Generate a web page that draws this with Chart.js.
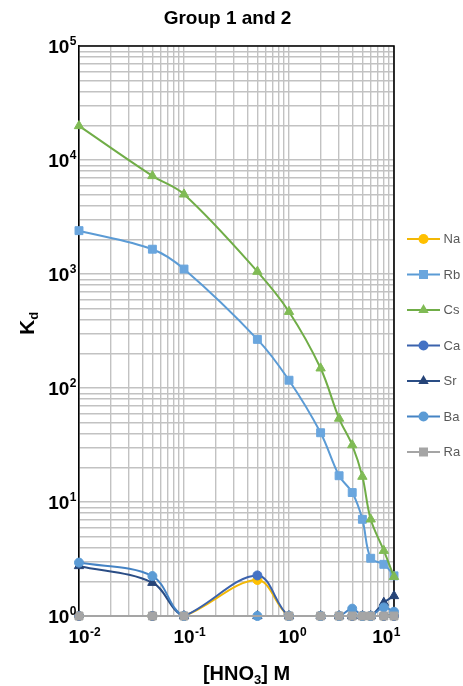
<!DOCTYPE html>
<html>
<head>
<meta charset="utf-8">
<script src="https://cdn.jsdelivr.net/npm/chart.js@4.4.1/dist/chart.umd.min.js"></script>
<style>
  html, body { margin: 0; padding: 0; background: #ffffff; }
  #wrap { width: 463px; height: 686px; position: relative; }
</style>
</head>
<body>
<div id="wrap"><canvas id="kdChart"></canvas></div>
<script>
// Nitric acid concentrations (M)
const hno3 = [0.01, 0.05, 0.1, 0.5, 1, 2, 3, 4, 5, 6, 8, 10];

// Distribution coefficients (Kd) per element
const kdNa = [1, 1, 1, 2.07, 1, 1, 1, 1, 1, 1, 1, 1];
const kdRb = [2400, 1650, 1105, 267, 117, 40.5, 17.0, 12.1, 7.05, 3.21, 2.84, 2.25];
const kdCs = [19900, 7250, 5000, 1050, 467, 149, 54, 31.6, 16.7, 7.05, 3.74, 2.21];
const kdCa = [1, 1, 1, 2.27, 1, 1, 1, 1, 1, 1, 1, 1];
const kdSr = [2.75, 1.96, 1, 1, 1, 1, 1, 1, 1, 1, 1.31, 1.5];
const kdBa = [2.94, 2.24, 1, 1, 1, 1, 1, 1.16, 1, 1, 1.19, 1.09];
const kdRa = [1, 1, 1, null, 1, 1, 1, 1, 1, 1, 1, 1];

const seriesNames = ['Na', 'Rb', 'Cs', 'Ca', 'Sr', 'Ba', 'Ra'];
const seriesValues = [kdNa, kdRb, kdCs, kdCa, kdSr, kdBa, kdRa];

// Axis tick labels: powers of ten
const xMajorTicks = [0.01, 0.1, 1, 10];
const xTickExponents = ['-2', '-1', '0', '1'];
const yMajorTicks = [1, 10, 100, 1000, 10000, 100000];
const yTickExponents = ['0', '1', '2', '3', '4', '5'];

// Styling
const lineColors   = ['#F2B705', '#5B9BD5', '#70AD47', '#3B62AC', '#2A4D85', '#4583C4', '#A5A5A5'];
const markerColors = ['#FFC000', '#6AA6DE', '#80BB55', '#4472C4', '#264478', '#5B9BD5', '#A5A5A5'];
const markerShapes = ['circle', 'rect', 'triangle', 'circle', 'triangle', 'circle', 'rect'];
const markerRadius = { circle: 4.5, rect: 5.6, triangle: 5.4 };

const FONT = '"Liberation Sans", Arial, Helvetica, sans-serif';

// Gridline positions: 1..9 of every decade
function decadeTicks(min, max) {
  const out = [];
  for (let e = Math.round(Math.log10(min)); e < Math.round(Math.log10(max)); e++) {
    for (let k = 1; k <= 9; k++) out.push({ value: k * Math.pow(10, e) });
  }
  out.push({ value: max });
  return out;
}

const datasets = seriesNames.map((name, i) => ({
  label: name,
  data: hno3.map((x, j) => ({ x: x, y: seriesValues[i][j] })),
  borderColor: lineColors[i],
  backgroundColor: markerColors[i],
  pointBackgroundColor: markerColors[i],
  pointBorderColor: markerColors[i],
  pointBorderWidth: 1,
  pointStyle: markerShapes[i],
  pointRadius: markerRadius[markerShapes[i]],
  pointHoverRadius: markerRadius[markerShapes[i]],
  borderWidth: 2,
  tension: 0.35,
  spanGaps: true,
  clip: { left: 8, right: 8, top: 8, bottom: 8 },
  order: seriesNames.length - i
}));

// "10" with a raised exponent
function drawPower(ctx, exp, anchorX, baseY, align) {
  const mainFont = 'bold 19px ' + FONT;
  const expFont = 'bold 12px ' + FONT;
  ctx.font = mainFont;
  const wMain = ctx.measureText('10').width;
  ctx.font = expFont;
  const wExp = ctx.measureText(exp).width;
  let x0;
  if (align === 'right') x0 = anchorX - wMain - wExp - 0.5;
  else x0 = anchorX - wMain / 2;
  ctx.textAlign = 'left';
  ctx.textBaseline = 'alphabetic';
  ctx.font = mainFont;
  ctx.fillText('10', x0, baseY);
  ctx.font = expFont;
  ctx.fillText(exp, x0 + wMain + 0.5, baseY - 7.5);
  return x0 + wMain + 0.5 + wExp;
}

function legendMarker(ctx, shape, x, y, color) {
  ctx.fillStyle = color;
  ctx.beginPath();
  if (shape === 'circle') {
    ctx.arc(x, y, 5, 0, Math.PI * 2);
  } else if (shape === 'rect') {
    ctx.rect(x - 4.5, y - 4.5, 9, 9);
  } else {
    const r = 6;
    ctx.moveTo(x, y - r);
    ctx.lineTo(x + r * 0.866, y + r * 0.5);
    ctx.lineTo(x - r * 0.866, y + r * 0.5);
    ctx.closePath();
  }
  ctx.fill();
}

const decorations = {
  id: 'decorations',
  beforeDatasetsDraw(chart) {
    const { ctx, chartArea: a } = chart;
    ctx.save();
    ctx.strokeStyle = '#000000';
    ctx.lineWidth = 1.6;
    ctx.beginPath();
    ctx.moveTo(a.left, a.top);
    ctx.lineTo(a.right, a.top);
    ctx.lineTo(a.right, a.bottom);
    ctx.stroke();
    ctx.restore();
  },
  afterDraw(chart) {
    const { ctx, chartArea: a, scales } = chart;
    ctx.save();
    ctx.fillStyle = '#000000';

    // Title
    ctx.font = 'bold 19px ' + FONT;
    ctx.textAlign = 'center';
    ctx.textBaseline = 'alphabetic';
    ctx.fillText('Group 1 and 2', 227.5, 24);

    // Y tick labels
    yMajorTicks.forEach((v, i) => {
      const py = scales.y.getPixelForValue(v);
      drawPower(ctx, yTickExponents[i], a.left - 2.5, py + 6.8, 'right');
    });

    // X tick labels (kept from spilling far past the frame)
    xMajorTicks.forEach((v, i) => {
      const px = scales.x.getPixelForValue(v);
      ctx.font = 'bold 19px ' + FONT;
      const wMain = ctx.measureText('10').width;
      ctx.font = 'bold 12px ' + FONT;
      const wExp = ctx.measureText(xTickExponents[i]).width;
      let cx = px;
      const right = cx - wMain / 2 + wMain + wExp;
      if (right > a.right + 6) cx -= right - (a.right + 6);
      drawPower(ctx, xTickExponents[i], cx, a.bottom + 27, 'center');
    });

    // X axis title: [HNO3] M
    const bigX = 'bold 20px ' + FONT, subX = 'bold 13px ' + FONT;
    ctx.font = bigX;
    const w1 = ctx.measureText('[HNO').width, w3 = ctx.measureText('] M').width;
    ctx.font = subX;
    const w2 = ctx.measureText('3').width;
    let tx = (a.left + a.right) / 2 + 10 - (w1 + w2 + w3) / 2;
    const ty = 680;
    ctx.textAlign = 'left';
    ctx.font = bigX; ctx.fillText('[HNO', tx, ty); tx += w1;
    ctx.font = subX; ctx.fillText('3', tx, ty + 4); tx += w2;
    ctx.font = bigX; ctx.fillText('] M', tx, ty);

    // Y axis title: Kd
    ctx.save();
    ctx.translate(34, 335);
    ctx.rotate(-Math.PI / 2);
    ctx.font = 'bold 21px ' + FONT;
    const wk = ctx.measureText('K').width;
    ctx.fillText('K', 0, 0);
    ctx.font = 'bold 13px ' + FONT;
    ctx.fillText('d', wk, 4);
    ctx.restore();

    // Legend
    chart.data.datasets.forEach((ds, i) => {
      const y = 239 + i * 35.5;
      ctx.strokeStyle = ds.borderColor;
      ctx.lineWidth = 2;
      ctx.beginPath();
      ctx.moveTo(407, y);
      ctx.lineTo(440, y);
      ctx.stroke();
      legendMarker(ctx, markerShapes[i], 423.5, y, markerColors[i]);
      ctx.fillStyle = '#595959';
      ctx.font = '13px ' + FONT;
      ctx.textAlign = 'left';
      ctx.textBaseline = 'middle';
      ctx.fillText(ds.label, 443.5, y + 0.5);
    });
    ctx.restore();
  }
};

new Chart(document.getElementById('kdChart'), {
  type: 'line',
  data: { datasets: datasets },
  options: {
    responsive: true,
    maintainAspectRatio: false,
    animation: false,
    events: [],
    layout: { padding: { left: 79, right: 69, top: 46, bottom: 70 } },
    plugins: { legend: { display: false }, title: { display: false }, tooltip: { enabled: false } },
    scales: {
      x: {
        type: 'logarithmic',
        min: 0.01,
        max: 10,
        afterBuildTicks: s => { s.ticks = decadeTicks(0.01, 10); },
        afterFit: s => { s.height = 0; },
        ticks: { display: false },
        grid: { color: '#C2C2C2', lineWidth: 1.4, drawTicks: false },
        border: { display: true, color: '#000000', width: 1.6 }
      },
      y: {
        type: 'logarithmic',
        min: 1,
        max: 100000,
        afterBuildTicks: s => { s.ticks = decadeTicks(1, 100000); },
        afterFit: s => { s.width = 0; },
        ticks: { display: false },
        grid: { color: '#C2C2C2', lineWidth: 1.4, drawTicks: false },
        border: { display: true, color: '#000000', width: 1.6 }
      }
    }
  },
  plugins: [decorations]
});
</script>
</body>
</html>
